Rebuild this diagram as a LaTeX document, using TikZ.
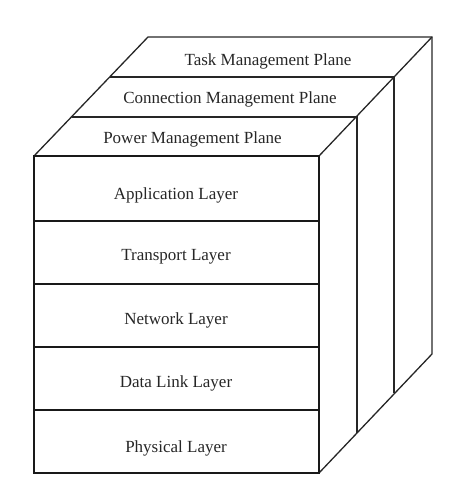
\documentclass[tikz,border=0pt]{standalone}
\usepackage{fontspec}
\setmainfont{Liberation Serif}
\begin{document}
\begin{tikzpicture}[x=1pt,y=-1pt,
  thin line/.style={line width=1.3pt,draw=black!85,line join=miter},
  thick line/.style={line width=2pt,draw=black!90,line join=miter},
  lbl/.style={font=\fontsize{17}{17}\selectfont,text=black!85,anchor=base,inner sep=0pt}]
\useasboundingbox (0,0) rectangle (452,493);
% corners
\coordinate (f1) at (34,156);
\coordinate (f2) at (319,156);
\coordinate (f3) at (319,473);
\coordinate (f4) at (34,473);
\coordinate (b1) at (148,37);
\coordinate (b2) at (432,37);
\coordinate (b3) at (432,354);
\coordinate (m1) at (110,77);
\coordinate (m2) at (394,77);
\coordinate (m3) at (394,393);
\coordinate (n1) at (72,117);
\coordinate (n2) at (357,117);
\coordinate (n3) at (357,433);
% top and side (thin)
\draw[thin line] (f1) -- (b1) -- (b2) -- (b3) -- (f3);
\draw[thin line] (m1) -- (m2) -- (m3);
\draw[thin line] (n1) -- (n2) -- (n3);
\draw[thin line] (f2) -- (b2);
% front face (thick)
\draw[thick line] (f1) rectangle (f3);
\foreach \y in {221,284,347,410} \draw[thick line] (34,\y) -- (319,\y);
% plane labels
\node[lbl] (task) at (268,65) {Task Management Plane};
\node[lbl] (conn) at (230,103) {Connection Management Plane};
\node[lbl] (power) at (192.5,143) {Power Management Plane};
% layer labels
\node[lbl] (app) at (176,199) {Application Layer};
\node[lbl] (trans) at (176,260) {Transport Layer};
\node[lbl] (net) at (176,324) {Network Layer};
\node[lbl] (dll) at (176,387) {Data Link Layer};
\node[lbl] (phy) at (176,452) {Physical Layer};
\end{tikzpicture}
\end{document}
